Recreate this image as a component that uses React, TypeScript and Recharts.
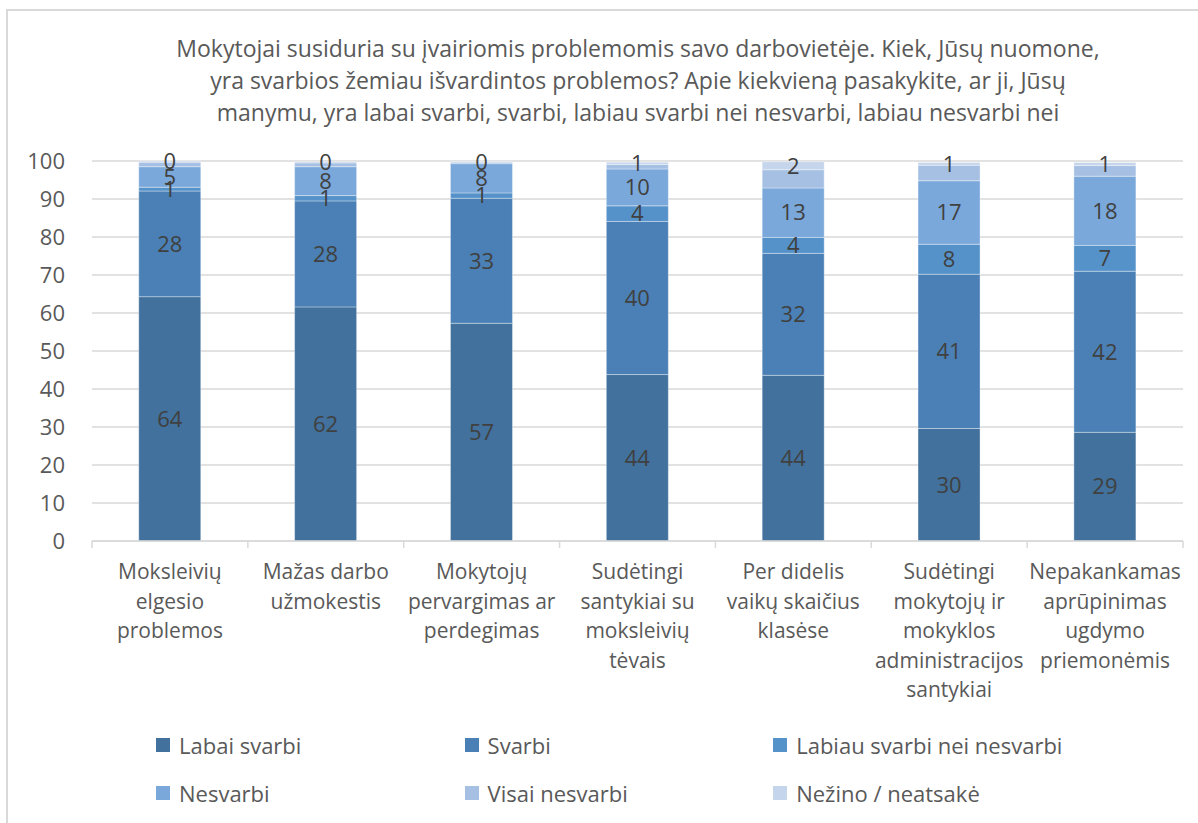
import React from 'react';
import { BarChart, Bar, XAxis, YAxis, CartesianGrid, LabelList, Legend } from 'recharts';

const titleLines = [
  'Mokytojai susiduria su įvairiomis problemomis savo darbovietėje. Kiek, Jūsų nuomone,',
  'yra svarbios žemiau išvardintos problemos? Apie kiekvieną pasakykite, ar ji, Jūsų',
  'manymu, yra labai svarbi, svarbi, labiau svarbi nei nesvarbi, labiau nesvarbi nei',
];

const categories = [
  'Moksleivių\nelgesio\nproblemos',
  'Mažas darbo\nužmokestis',
  'Mokytojų\npervargimas ar\nperdegimas',
  'Sudėtingi\nsantykiai su\nmoksleivių\ntėvais',
  'Per didelis\nvaikų skaičius\nklasėse',
  'Sudėtingi\nmokytojų ir\nmokyklos\nadministracijos\nsantykiai',
  'Nepakankamas\naprūpinimas\nugdymo\npriemonėmis',
];

const labaiSvarbi = [64.3, 61.6, 57.3, 43.8, 43.6, 29.6, 28.6];
const svarbi = [27.8, 27.9, 32.9, 40.3, 32.1, 40.6, 42.4];
const labiauSvarbi = [1.0, 1.4, 1.4, 4.1, 4.2, 7.9, 6.8];
const nesvarbi = [5.4, 7.6, 7.7, 9.7, 13.0, 16.7, 18.2];
const visaiNesvarbi = [1.2, 1.0, 0.4, 1.2, 4.8, 4.1, 2.8];
const nezino = [0.3, 0.3, 0.2, 0.6, 2.1, 0.7, 0.8];

const yTicks = [0, 10, 20, 30, 40, 50, 60, 70, 80, 90, 100];

const seriesNames = [
  'Labai svarbi',
  'Svarbi',
  'Labiau svarbi nei nesvarbi',
  'Nesvarbi',
  'Visai nesvarbi',
  'Nežino / neatsakė',
];
const seriesColors = ['#41719c', '#4a80b5', '#5592c9', '#7aa8da', '#a6c0e4', '#c5d5ec'];
const seriesShowLabels = [true, true, true, true, false, true];

const data = categories.map((c, i) => ({
  category: c,
  s0: labaiSvarbi[i],
  s1: svarbi[i],
  s2: labiauSvarbi[i],
  s3: nesvarbi[i],
  s4: visaiNesvarbi[i],
  s5: nezino[i],
}));

const FONT = '"Open Sans", sans-serif';
const CHART_W = 1198;
const CHART_H = 823;
const MARGIN = { top: 161, right: 15, bottom: 0, left: 0 };
const Y_W = 92;
const X_H = 282;
const STEP = (CHART_W - MARGIN.left - MARGIN.right - Y_W) / categories.length;

const XTick = (props: any) => {
  const { x, y, payload, index } = props;
  const lines = String(payload.value).split('\n');
  return (
    <g>
      {index === 0 && (
        <line x1={x - STEP / 2} x2={x - STEP / 2} y1={y} y2={y + 7} stroke="#d9d9d9" strokeWidth={1.5} />
      )}
      <line x1={x + STEP / 2} x2={x + STEP / 2} y1={y} y2={y + 7} stroke="#d9d9d9" strokeWidth={1.5} />
      <text x={x} y={y} textAnchor="middle" fill="#595959" fontSize={21} fontFamily={FONT}>
        {lines.map((l, i) => (
          <tspan key={i} x={x} y={y + 38 + i * 29.5}>
            {l}
          </tspan>
        ))}
      </text>
    </g>
  );
};

const LegendContent = (props: any) => {
  const payload = [...(props.payload || [])].sort(
    (a: any, b: any) => seriesNames.indexOf(a.value) - seriesNames.indexOf(b.value)
  );
  return (
    <div style={{ position: 'relative', width: 0, height: 0 }}>
      {payload.map((p: any, i: number) => {
        const col = i % 3;
        const row = Math.floor(i / 3);
        return (
          <div
            key={i}
            style={{
              position: 'absolute',
              left: 156 + col * 308.6,
              top: 745 + row * 47.5 - 16,
              height: 32,
              display: 'flex',
              alignItems: 'center',
              whiteSpace: 'nowrap',
              fontFamily: FONT,
              fontSize: 22,
              color: '#595959',
            }}
          >
            <span style={{ display: 'inline-block', width: 14, height: 14, background: p.color, marginRight: 9 }} />
            <span>{p.value}</span>
          </div>
        );
      })}
    </div>
  );
};

export default function App() {
  return (
    <div
      style={{
        position: 'absolute',
        left: 0,
        top: 0,
        width: CHART_W,
        height: CHART_H,
        overflow: 'hidden',
        background: '#ffffff',
        fontFamily: FONT,
      }}
    >
      <div
        style={{
          position: 'absolute',
          left: 6,
          top: 9,
          width: 1400,
          height: 1000,
          border: '2px solid #d9d9d9',
          boxSizing: 'border-box',
        }}
      />
      <div
        style={{
          position: 'absolute',
          left: 0,
          width: 1276,
          top: 32,
          textAlign: 'center',
          color: '#595959',
          fontSize: 23,
          lineHeight: '32px',
          fontFamily: FONT,
          whiteSpace: 'nowrap',
        }}
      >
        {titleLines.map((t, i) => (
          <div key={i}>{t}</div>
        ))}
      </div>
      <div style={{ position: 'absolute', left: 0, top: 0 }}>
        <BarChart width={CHART_W} height={CHART_H} data={data} margin={MARGIN} barCategoryGap="30%">
          <CartesianGrid vertical={false} stroke="#d9d9d9" strokeWidth={1.5} />
          <XAxis
            dataKey="category"
            height={X_H}
            interval={0}
            axisLine={{ stroke: '#d9d9d9', strokeWidth: 1.5 }}
            tickLine={false}
            tickSize={0}
            tickMargin={0}
            tick={<XTick />}
          />
          <YAxis
            width={Y_W}
            domain={[0, 100]}
            ticks={yTicks}
            interval={0}
            axisLine={false}
            tickLine={false}
            tickSize={0}
            tickMargin={27}
            tick={{ fill: '#595959', fontSize: 22, fontFamily: FONT }}
          />
          {seriesNames.map((name, si) => (
            <Bar
              key={name}
              dataKey={'s' + si}
              name={name}
              stackId="a"
              fill={seriesColors[si]}
              stroke="#ffffff"
              strokeOpacity={0.35}
              strokeWidth={1}
              isAnimationActive={false}
            >
              {seriesShowLabels[si] && (
                <LabelList
                  dataKey={'s' + si}
                  position="center"
                  formatter={(v: any) => Math.round(Number(v))}
                  fill="#404040"
                  fontSize={22}
                  fontFamily={FONT}
                />
              )}
            </Bar>
          ))}
          <Legend
            content={<LegendContent />}
            wrapperStyle={{ position: 'absolute', left: 0, top: 0, width: 0, height: 0 }}
          />
        </BarChart>
      </div>
    </div>
  );
}
